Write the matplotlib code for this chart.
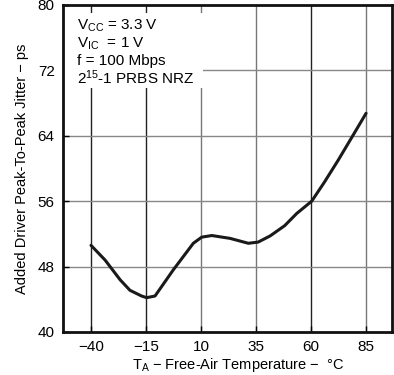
import numpy as np
import matplotlib.pyplot as plt

plt.rcParams['font.family'] = ['Liberation Sans', 'DejaVu Sans']
plt.rcParams['mathtext.fontset'] = 'custom'
plt.rcParams['mathtext.rm'] = 'Liberation Sans'
plt.rcParams['mathtext.it'] = 'Liberation Sans'

# curve
temp = [-40, -33.6, -26.8, -22.3, -17, -14.7, -10.9, -2.6, 6.5, 10.3, 14.9,
        23.2, 31.5, 36, 41.4, 48, 53.5, 60.3, 66, 72.3, 78.5, 85]
jitter = [50.6, 48.8, 46.4, 45.1, 44.4, 44.2, 44.4, 47.6, 50.85, 51.6, 51.8,
          51.45, 50.85, 51.0, 51.75, 53.0, 54.5, 56.0, 58.3, 61.0, 63.8, 66.75]

xticks = [-40, -15, 10, 35, 60, 85]
yticks = [40, 48, 56, 64, 72, 80]
notes = ["V$_{\\mathrm{CC}}$ = 3.3 V", "V$_{\\mathrm{IC}}$  = 1 V", "f = 100 Mbps",
         "2$^{15}$-1 PRBS NRZ"]

fig = plt.figure(figsize=(3.94, 3.75), dpi=100)
ax = fig.add_axes([0.160, 0.1147, 0.835, 0.872])

ax.set_xlim(-52.7, 96.8)
ax.set_ylim(40, 80)
ax.set_xticks(xticks)
ax.set_yticks(yticks)

for i, t in enumerate(xticks):
    c = "#222222" if t in (-40, -15, 60) else "#777777"
    ax.axvline(t, color=c, lw=1.0, zorder=1)
for v in yticks[1:-1]:
    ax.axhline(v, color="#888888", lw=1.0, zorder=1)

ax.plot(temp, jitter, color="#1a1a1a", lw=2.2, zorder=3,
        solid_joinstyle="round", solid_capstyle="round")

# white box behind the notes, covering the grid
ax.add_patch(plt.Rectangle((-52.7, 69.8), 63.5, 9.2, facecolor="white",
                           edgecolor="none", zorder=2))
ys = [77.5, 75.3, 73.2, 71.1]
for s, y in zip(notes, ys):
    ax.text(-46.3, y, s, fontsize=11, va="center", ha="left", zorder=4)

for sp in ax.spines.values():
    sp.set_linewidth(2.0)
    sp.set_color("#111111")

ax.tick_params(axis="both", direction="in", length=4, width=1, labelsize=11,
               pad=6)
ax.set_xticklabels(["\u221240", "\u221215", "10", "35", "60", "85"])

ax.set_xlabel("T$_{\\mathrm{A}}$ \u2212 Free-Air Temperature \u2212  \u00b0C",
              fontsize=10.5, labelpad=3)
ax.xaxis.set_label_coords(0.533, -0.072)
ax.set_ylabel("Added Driver Peak-To-Peak Jitter \u2212 ps", fontsize=10.5,
              labelpad=6)

fig.savefig("out.png", dpi=100)
